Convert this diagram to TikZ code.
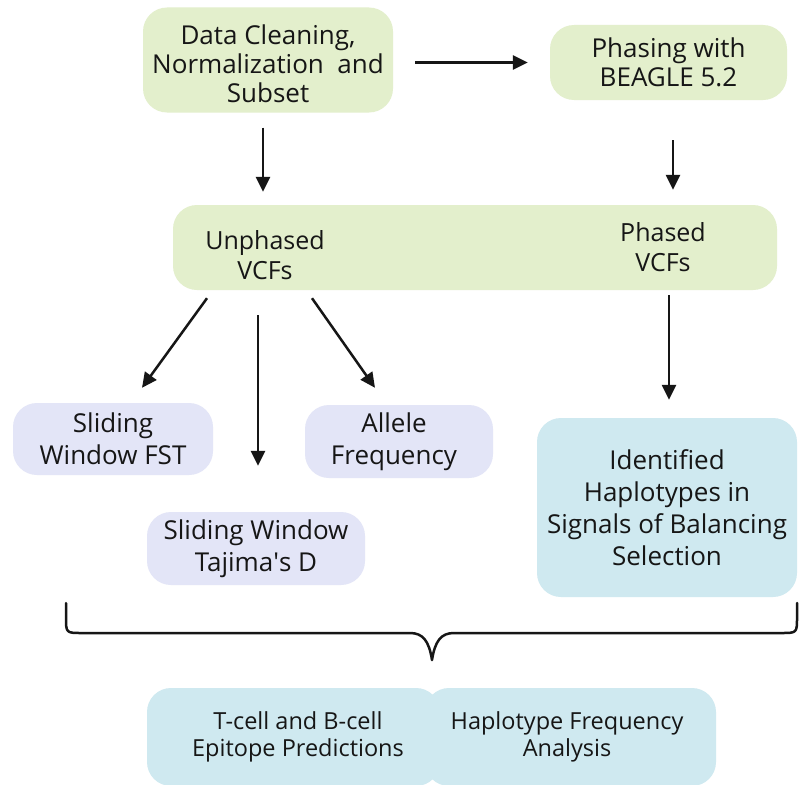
\documentclass[tikz,border=0pt]{standalone}
\usepackage{fontspec}
\setmainfont{Open Sans}
\usetikzlibrary{arrows.meta}

\definecolor{boxgreen}{HTML}{E3EFCC}
\definecolor{boxlav}{HTML}{E3E5F7}
\definecolor{boxblue}{HTML}{CFE9F0}
\definecolor{ink}{HTML}{161616}

\tikzset{
  box/.style={rounded corners=24pt, inner sep=0pt, align=center, text=ink,
    font=\fontsize{26}{29}\selectfont},
  greenbox/.style={box, fill=boxgreen},
  lavbox/.style={box, fill=boxlav, font=\fontsize{26}{32}\selectfont},
  bluebox/.style={box, fill=boxblue, font=\fontsize{26}{32}\selectfont},
  label/.style={inner sep=0pt, align=center, text=ink,
    font=\fontsize{25}{30}\selectfont},
  smalllabel/.style={inner sep=0pt, align=center, text=ink,
    font=\fontsize{23.5}{27}\selectfont},
  arr/.style={draw=ink, line width=2.5pt,
    -{Triangle[length=15pt,width=14pt]}},
  brace/.style={draw=ink, line width=2.5pt, line cap=round, line join=round}
}

\begin{document}
\begin{tikzpicture}[x=1pt,y=-1pt]
\clip (0,0) rectangle (799,784);
\fill[white] (0,0) rectangle (799,784);

% top row
\node[greenbox, minimum width=250pt, minimum height=105pt] (data) at (268,60) {};
\node[label, font=\fontsize{26}{29}\selectfont] (datatxt) at (268,64)
  {Data Cleaning,\\Normalization\ \ and\\Subset};
\node[greenbox, minimum width=237pt, minimum height=75pt] (phase) at (668.5,62.5)
  {Phasing with\\BEAGLE 5.2};

% VCF band with its two labels
\node[greenbox, minimum width=604pt, minimum height=85pt] (vcf) at (475,247.5) {};
\node[label] (unph) at (265,255) {Unphased\\VCFs};
\node[label] (ph) at (663,247) {Phased\\VCFs};

% analyses
\node[lavbox, minimum width=200pt, minimum height=72pt] (fst) at (113,439)
  {Sliding\\Window FST};
\node[lavbox, minimum width=188pt, minimum height=73pt] (allele) at (399,441.5)
  {\hspace*{-10pt}Allele\\\hspace*{-10pt}Frequency};
\node[lavbox, minimum width=218pt, minimum height=73pt] (taj) at (256,548.5)
  {Sliding Window\\Tajima\textquotesingle s D};
\node[bluebox, minimum width=260pt, minimum height=179pt] (ident) at (667,507.5)
  {Identified\\Haplotypes in\\Signals of Balancing\\Selection};

% bottom panel, two halves
\node[box, fill=boxblue, minimum width=293pt, minimum height=98pt] (outl) at (293.5,737) {};
\node[box, fill=boxblue, minimum width=291pt, minimum height=98pt] (outr) at (570.5,737) {};
\node[smalllabel] (tcell) at (298,737) {T-cell and B-cell\\Epitope Predictions};
\node[smalllabel] (hapf) at (567,737) {Haplotype Frequency\\Analysis};

% connectors
\draw[arr, shorten <=22pt, shorten >=22pt] (data.east |- phase.west) -- (phase.west);
\draw[arr, shorten <=15pt, shorten >=13pt]
  ([xshift=-5pt]data.south) -- ([xshift=-5pt]data.south |- vcf.north);
\draw[arr, shorten <=40pt, shorten >=15pt]
  ([xshift=4.5pt]phase.south) -- ([xshift=4.5pt]phase.south |- vcf.north);
\draw[arr] ([xshift=-268pt,yshift=-8pt]vcf.south) -- ([xshift=29pt,yshift=15pt]fst.north);
\draw[arr, shorten <=25pt, shorten >=46pt]
  ([xshift=2pt]taj.north |- vcf.south) -- ([xshift=2pt]taj.north);
\draw[arr] ([xshift=-163pt,yshift=-8pt]vcf.south) -- ([xshift=-24pt,yshift=17pt]allele.north);
\draw[arr, shorten <=5pt, shorten >=18pt]
  ([xshift=2pt]ident.north |- vcf.south) -- ([xshift=2pt]ident.north);

% brace gathering the results
\draw[brace] (66,603) -- (66,617) .. controls (66,633) .. (82,633) -- (410,633)
  .. controls (423,633) and (429,641) .. (432,660)
  .. controls (435,641) and (441,633) .. (454,633) -- (781,633)
  .. controls (797,633) .. (797,617) -- (797,603);
\end{tikzpicture}
\end{document}
